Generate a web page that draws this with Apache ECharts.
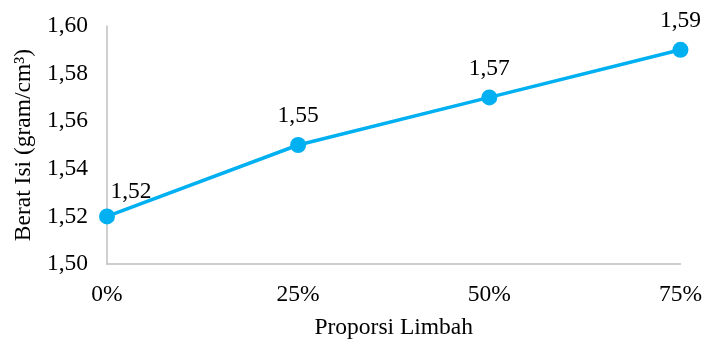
<!DOCTYPE html>
<html>
<head>
<meta charset="utf-8">
<script src="https://cdn.jsdelivr.net/npm/echarts@6/dist/echarts.min.js"></script>
<style>
  html, body { margin: 0; padding: 0; background: #fff; }
  #chart { width: 705px; height: 345px; }
</style>
</head>
<body>
<div id="chart"></div>
<script>
// Bulk density by waste proportion
const categories = ['0%', '25%', '50%', '75%'];
const beratIsi = [1.52, 1.55, 1.57, 1.59];
const yMin = 1.50, yMax = 1.60, yStep = 0.02;

const FONT = '"Liberation Serif", "Times New Roman", serif';
const FS = 23.5;
const comma = v => Number(v).toFixed(2).replace('.', ',');

const chart = echarts.init(document.getElementById('chart'));
chart.setOption({
  animation: false,
  grid: { left: 107, right: 24, top: 26, bottom: 80 },
  xAxis: {
    type: 'category',
    data: categories,
    boundaryGap: false,
    name: 'Proporsi Limbah',
    nameLocation: 'middle',
    nameGap: 52,
    nameTextStyle: { fontFamily: FONT, fontSize: FS, color: '#000' },
    axisLine: { show: true, lineStyle: { color: '#BFBFBF', width: 1.5 } },
    axisTick: { show: false },
    axisLabel: { fontFamily: FONT, fontSize: FS, color: '#000', margin: 19 }
  },
  yAxis: {
    type: 'value',
    min: yMin, max: yMax, interval: yStep,
    name: 'Berat Isi (gram/cm³)',
    nameLocation: 'middle',
    nameGap: 69,
    nameTextStyle: { fontFamily: FONT, fontSize: FS, color: '#000' },
    axisLine: { show: true, lineStyle: { color: '#BFBFBF', width: 1.5 } },
    axisTick: { show: false },
    splitLine: { show: false },
    axisLabel: { fontFamily: FONT, fontSize: FS, color: '#000', margin: 19, formatter: comma }
  },
  series: [{
    type: 'line',
    data: beratIsi,
    symbol: 'circle',
    symbolSize: 16,
    lineStyle: { color: '#00B0F0', width: 3.5 },
    itemStyle: { color: '#00B0F0' },
    label: {
      show: true,
      position: 'top',
      distance: 9,
      fontFamily: FONT, fontSize: FS, color: '#000',
      formatter: p => comma(p.value)
    },
    labelLayout: function (params) {
      if (params.dataIndex === 0) {
        return { dx: 24, dy: 4 };
      }
      return {};
    }
  }]
});
</script>
</body>
</html>
